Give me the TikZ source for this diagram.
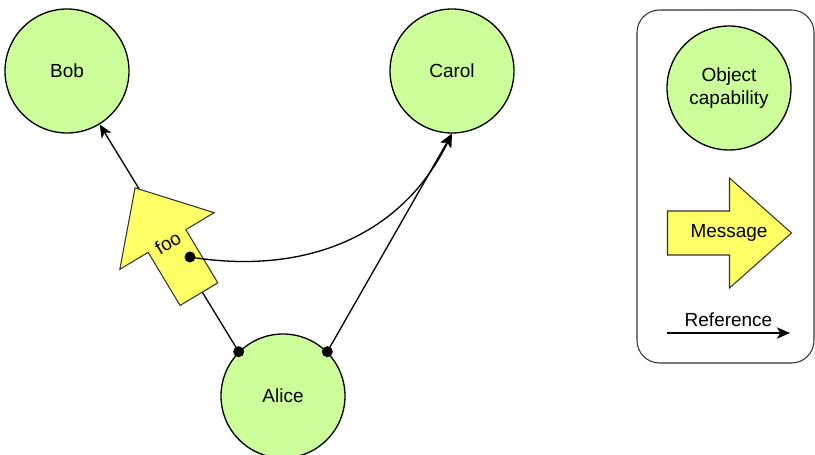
\documentclass[tikz,border=0pt]{standalone}
\usepackage{fontspec}
\setmainfont{Liberation Sans}
\usepackage{tikz}
\usetikzlibrary{arrows.meta,positioning}

\definecolor{capgreen}{HTML}{CCFF99}
\definecolor{msgyellow}{HTML}{FFFF66}
\definecolor{edgegray}{HTML}{333333}

\tikzset{
  msgshape/.pic={
    \draw[draw=edgegray, fill=msgyellow, line width=0.6pt]
      (-62,-22) -- (0,-22) -- (0,-55) -- (62,0) -- (0,55) -- (0,22) -- (-62,22) -- cycle;
  }
}

\begin{document}
\begin{tikzpicture}[x=0.02cm, y=-0.02cm,
  font=\fontsize{10.8}{13}\selectfont,
  capnode/.style={draw, circle, fill=capgreen, line width=0.75pt, minimum size=2.48cm,
              inner sep=0pt, align=center},
  msgtext/.style={inner sep=0pt},
  ref/.style={line width=0.75pt, -{Stealth[length=7.5pt,width=6.5pt,inset=2pt]}},
  dot/.style={circle, fill=black, inner sep=0pt, minimum size=0.22cm},
  legend/.style={draw=edgegray, line width=0.6pt, rounded corners=0.45cm},
]
\useasboundingbox (0,0) rectangle (815,455);

% objects
\node[capnode] (bob) at (67,71) {Bob};
\node[capnode] (carol) at (452,71) {Carol};
\node[capnode] (alice) at (283,396) {Alice};

% references held by Alice
\draw[ref] (alice.135) -- (bob);
\draw[ref] (alice.45) -- (carol.south);

% message foo
\pic[rotate=121] at (167,241) {msgshape};
\node[msgtext, rotate=31] (foo) at (168,243) {foo};
\coordinate (foodot) at (190,257);
\draw[ref] (foodot) .. controls (300,275) and (400,240) .. (carol.south);

\node[dot] at (alice.135) {};
\node[dot] at (alice.45) {};
\node[dot] at (foodot) {};

% legend
\draw[legend] (637,10) rectangle (814,363);
\node[capnode] (objcap) at (729,88) {Object\\capability};
\pic at (729.5,233) {msgshape};
\node[msgtext] (message) at (729,233) {Message};
\coordinate (refa) at (667,333);
\coordinate (refb) at (790,333);
\draw[ref] (refa) -- node[above] (reftext) {Reference} (refb);

\end{tikzpicture}
\end{document}
